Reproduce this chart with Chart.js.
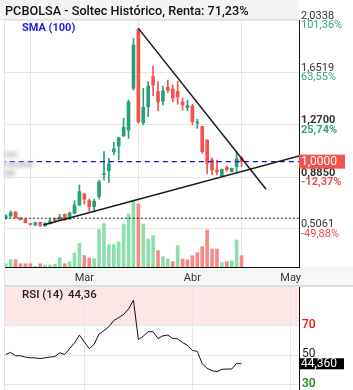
<!DOCTYPE html>
<html lang="es">
<head>
<meta charset="UTF-8">
<title>PCBOLSA - Soltec Histórico</title>
<script src="https://cdn.jsdelivr.net/npm/chart.js"></script>
<style>
  body { margin: 0; background: #fff; width: 353px; height: 390px; overflow: hidden; }
  .panel { position: absolute; left: 0; width: 353px; }
  #main { top: 0; height: 287px; }
  #rsi { top: 287px; height: 103px; }
</style>
</head>
<body>
<div class="panel" id="main"><canvas id="cMain"></canvas></div>
<div class="panel" id="rsi"><canvas id="cRsi"></canvas></div>

<script>
// velas diarias (índice de sesión)
const opens  = [0.585, 0.601, 0.631, 0.587, 0.579, 0.545, 0.535, 0.555, 0.528, 0.545,
                0.582, 0.570, 0.614, 0.578, 0.621, 0.682, 0.763, 0.714, 0.670, 0.743,
                0.905, 0.934, 1.073, 1.115, 1.190, 1.232, 1.538, 1.970, 1.285, 1.403,
                1.623, 1.513, 1.442, 1.545, 1.532, 1.513, 1.437, 1.395, 1.408, 1.283,
                1.256, 1.158, 1.012, 0.939, 0.895, 0.958, 0.926, 0.963, 1.024];
const highs  = [0.609, 0.638, 0.633, 0.588, 0.580, 0.547, 0.557, 0.557, 0.551, 0.585,
                0.586, 0.614, 0.616, 0.628, 0.713, 0.829, 0.765, 0.726, 0.726, 0.865,
                1.073, 1.024, 1.142, 1.180, 1.318, 1.452, 1.904, 1.977, 1.538, 1.586,
                1.701, 1.586, 1.554, 1.598, 1.562, 1.590, 1.466, 1.452, 1.422, 1.310,
                1.261, 1.160, 1.027, 1.012, 0.946, 0.968, 0.953, 1.073, 1.036];
const lows   = [0.579, 0.592, 0.587, 0.572, 0.550, 0.535, 0.530, 0.523, 0.526, 0.541,
                0.560, 0.567, 0.570, 0.575, 0.616, 0.677, 0.689, 0.638, 0.633, 0.724,
                0.865, 0.848, 1.049, 1.012, 1.183, 1.171, 1.525, 1.281, 1.269, 1.329,
                1.481, 1.371, 1.415, 1.505, 1.439, 1.420, 1.378, 1.373, 1.269, 1.244,
                1.061, 0.914, 0.902, 0.902, 0.893, 0.931, 0.924, 0.926, 0.963];
const closes = [0.604, 0.626, 0.589, 0.574, 0.552, 0.540, 0.552, 0.533, 0.550, 0.564,
                0.566, 0.594, 0.572, 0.624, 0.682, 0.780, 0.724, 0.670, 0.709, 0.851,
                0.912, 0.983, 1.093, 1.175, 1.252, 1.439, 1.855, 1.293, 1.398, 1.554,
                1.562, 1.439, 1.520, 1.522, 1.464, 1.474, 1.415, 1.410, 1.293, 1.288,
                1.073, 0.988, 0.939, 0.926, 0.944, 0.942, 0.951, 1.021, 1.000];
// volumen (miles de títulos)
const volumes = [330, 730, 730, 330, 330, 330, 50, 330, 200, 200,
                 270, 930, 330, 530, 1400, 2350, 1150, 900, 850, 3750,
                 4350, 2230, 2230, 2500, 4300, 5300, 6700, 6300, 4300, 2800,
                 3130, 1630, 1030, 800, 530, 2130, 800, 730, 1130, 1430,
                 2030, 3700, 1800, 1800, 430, 530, 600, 2700, 1130];
// RSI (14)
const rsi = [50.7, 52.1, 49.8, 49.8, 48.9, 48.4, 48.4, 47.9, 48.4, 48.9,
             49.3, 51.8, 50.7, 54.6, 58.5, 63.8, 59.2, 54.6, 57.6, 64.5,
             66.8, 69.5, 73.7, 75.7, 77.8, 81.5, 87.5, 60.8, 63.1, 66.1,
             66.1, 61.5, 63.3, 63.8, 61.5, 61.3, 58.7, 56.9, 53.4, 52.8,
             44.3, 41.3, 39.7, 39.0, 40.6, 40.8, 40.8, 44.7, 44.36];

const monthLabels = ['Mar', 'Abr', 'May'];
const monthIdx = [16, 38, 58];
const priceTicks = [2.0338, 1.6519, 1.2700, 0.8850, 0.5061];
const pctLabels = ['101,36%', '63,55%', '25,74%', '-12,37%', '-49,88%'];
const rsiLevels = [70, 50, 30];

// líneas de tendencia y niveles
const resistX = [27, 53];
const resistY = [1.977, 0.797];
const supportX = [7.66, 60];
const supportY = [0.535, 1.044];
const smaLevel = 1.0;
const refLevel = 0.585;

const xMin = -0.15, xMax = 59.7;
const yMin = 0.2274, yMax = 2.0383;
const volMax = 24700;
const rsiMin = 26.6, rsiMax = 96.4;

const GREEN = '#26a17a', RED = '#f4524d';
const VGREEN = '#8ddfb0', VRED = '#f68a87';
const FONT = 'Roboto, "DejaVu Sans", sans-serif';

const pts = (xs, ys) => xs.map((x, i) => ({ x: x, y: ys[i] }));
const fmt = (v, d) => v.toFixed(d).replace('.', ',');

const bodies = closes.map((c, i) => ({ x: i, y: [opens[i], c] }));
const wicks = closes.map((c, i) => ({ x: i, y: [lows[i], highs[i]] }));
const vols = volumes.map((v, i) => ({ x: i, y: v }));
const candleCol = closes.map((c, i) => c >= opens[i] ? GREEN : RED);
const volCol = closes.map((c, i) => (i === 0 || c >= closes[i - 1]) ? VGREEN : VRED);

const mainDeco = {
    id: 'mainDeco',
    beforeDraw(chart) {
        const ctx = chart.ctx, a = chart.chartArea;
        ctx.save();
        ctx.fillStyle = '#f4f4f4';
        ctx.fillRect(0, 0, a.right, a.top - 1);
        ctx.fillStyle = '#e0e0e0';
        ctx.fillRect(0, a.top - 1, a.right, 1);
        ctx.fillStyle = '#f6f6f6';
        ctx.fillRect(a.left, a.bottom, chart.width - a.left, chart.height - a.bottom - 2);
        ctx.fillStyle = '#dcdcdc';
        ctx.fillRect(a.left, chart.height - 2, chart.width - a.left, 2);
        ctx.fillStyle = '#e4e4e4';
        ctx.fillRect(a.left - 1, a.top, 1, chart.height - a.top);
        ctx.restore();
    },
    afterDraw(chart) {
        const ctx = chart.ctx, a = chart.chartArea, y = chart.scales.y;
        ctx.save();
        ctx.textBaseline = 'middle';
        ctx.textAlign = 'left';
        ctx.fillStyle = '#111';
        ctx.font = '500 12.7px ' + FONT;
        ctx.fillText('PCBOLSA - Soltec Histórico, Renta: 71,23%', 5, 12);
        ctx.fillStyle = '#1d1de0';
        ctx.font = 'bold 11px ' + FONT;
        ctx.fillText('SMA (100)', 22, 28.5);

        // etiquetas tapadas
        ctx.filter = 'blur(2px)';
        ctx.fillStyle = 'rgba(190,190,190,0.8)';
        ctx.fillRect(a.left, 152, 12, 5);
        ctx.fillRect(a.left, 162, 28, 5);
        ctx.fillRect(a.left, 170, 10, 6);
        ctx.filter = 'none';

        // eje de precios
        priceTicks.forEach((v, i) => {
            const py = y.getPixelForValue(v);
            const bold = (i === 2 || i === 3) ? 'bold ' : '';
            ctx.font = bold + '11px ' + FONT;
            ctx.fillStyle = '#333';
            ctx.fillText(fmt(v, 4), a.right + 2, py - 4.5);
            ctx.fillStyle = pctLabels[i].startsWith('-') ? '#f04a4a' : '#34a67a';
            ctx.fillText(pctLabels[i], a.right + 2, py + 5);
        });
        const ly = y.getPixelForValue(closes[closes.length - 1]);
        ctx.fillStyle = '#f4524d';
        ctx.fillRect(a.right, ly - 7, 46, 14);
        ctx.fillStyle = '#fff';
        ctx.font = '12px ' + FONT;
        ctx.fillText(fmt(closes[closes.length - 1], 4), a.right + 2, ly);
        ctx.restore();
    }
};

new Chart(document.getElementById('cMain'), {
    type: 'bar',
    data: {
        datasets: [
            { type: 'line', data: pts(resistX, resistY), borderColor: '#1a1a1a', borderWidth: 1.5,
              pointRadius: 0, order: 0 },
            { type: 'line', data: pts(supportX, supportY), borderColor: '#1a1a1a', borderWidth: 1.5,
              pointRadius: 0, order: 0 },
            { type: 'line', data: pts([-1, 61], [smaLevel, smaLevel]), borderColor: '#1414c8',
              borderWidth: 1.2, borderDash: [5, 4], pointRadius: 0, order: 1 },
            { type: 'line', data: pts([-1, 61], [refLevel, refLevel]), borderColor: '#222',
              borderWidth: 1, borderDash: [2, 2], pointRadius: 0, order: 2 },
            { data: bodies, backgroundColor: candleCol, barThickness: 3, minBarLength: 1,
              grouped: false, order: 3 },
            { data: wicks, backgroundColor: candleCol, barThickness: 1, grouped: false, order: 4 },
            { data: vols, yAxisID: 'v', backgroundColor: volCol, barThickness: 3,
              grouped: false, order: 5 }
        ]
    },
    options: {
        responsive: true,
        maintainAspectRatio: false,
        animation: false,
        layout: { padding: { left: 5, top: 20, right: 0, bottom: 2 } },
        plugins: { legend: { display: false }, tooltip: { enabled: false } },
        scales: {
            x: {
                type: 'linear', min: xMin, max: xMax, offset: false,
                afterBuildTicks: s => { s.ticks = monthIdx.map(v => ({ value: v })); },
                afterFit: s => { s.height = 18; },
                ticks: { callback: (v, i) => monthLabels[i], color: '#333', padding: 5,
                         font: { family: FONT, size: 11 }, maxRotation: 0, autoSkip: false },
                grid: { color: '#e6e6e6', drawTicks: false },
                border: { color: '#111', width: 1 }
            },
            y: {
                position: 'right', min: yMin, max: yMax,
                afterBuildTicks: s => { s.ticks = priceTicks.map(v => ({ value: v })); },
                afterFit: s => { s.width = 54; },
                ticks: { display: false },
                grid: { color: '#e6e6e6', drawTicks: false },
                border: { color: '#111', width: 1 }
            },
            v: { display: false, min: 0, max: volMax }
        }
    },
    plugins: [mainDeco]
});

const rsiColors = ['#ee1111', '#222', '#118811'];

const rsiDeco = {
    id: 'rsiDeco',
    beforeDraw(chart) {
        const ctx = chart.ctx, a = chart.chartArea, y = chart.scales.y;
        ctx.save();
        ctx.fillStyle = '#fde6e6';
        ctx.fillRect(a.left, a.top, a.right - a.left, y.getPixelForValue(70) - a.top);
        ctx.fillStyle = '#e4e4e4';
        ctx.fillRect(a.left - 1, a.top, 1, a.bottom - a.top);
        ctx.restore();
    },
    afterDraw(chart) {
        const ctx = chart.ctx, a = chart.chartArea, y = chart.scales.y;
        const last = rsi[rsi.length - 1];
        ctx.save();
        ctx.textBaseline = 'middle';
        ctx.textAlign = 'left';
        // niveles
        rsiLevels.forEach((v, i) => {
            ctx.fillStyle = rsiColors[i];
            ctx.font = (i === 1 ? '' : '500 ') + '12px ' + FONT;
            ctx.fillText(String(v), a.right + 3, y.getPixelForValue(v) - 1);
        });
        ctx.fillStyle = '#222';
        ctx.font = '500 11.5px ' + FONT;
        ctx.fillText('RSI (14)', 22, 8);
        ctx.fillText(fmt(last, 2), 68, 8);
        const ly = y.getPixelForValue(last);
        ctx.fillStyle = '#000';
        ctx.fillRect(a.right, ly - 5.5, 45, 11);
        ctx.fillStyle = '#fff';
        ctx.font = '12px ' + FONT;
        ctx.fillText(fmt(last, 3), a.right + 2, ly);
        ctx.restore();
    }
};

new Chart(document.getElementById('cRsi'), {
    type: 'line',
    data: {
        datasets: [
            { data: rsi.map((v, i) => ({ x: i, y: v })), borderColor: '#111', borderWidth: 1,
              pointRadius: 0, tension: 0 }
        ]
    },
    options: {
        responsive: true,
        maintainAspectRatio: false,
        animation: false,
        layout: { padding: { left: 5, top: 0, right: 0, bottom: 0 } },
        plugins: { legend: { display: false }, tooltip: { enabled: false } },
        scales: {
            x: {
                type: 'linear', min: xMin, max: xMax,
                afterBuildTicks: s => { s.ticks = monthIdx.map(v => ({ value: v })); },
                afterFit: s => { s.height = 0; },
                ticks: { display: false },
                grid: { color: '#e6e6e6', drawTicks: false },
                border: { display: false }
            },
            y: {
                position: 'right', min: rsiMin, max: rsiMax,
                afterBuildTicks: s => { s.ticks = rsiLevels.map(v => ({ value: v })); },
                afterFit: s => { s.width = 54; },
                ticks: { display: false },
                grid: { color: '#e6e6e6', drawTicks: false },
                border: { color: '#111', width: 1 }
            }
        }
    },
    plugins: [rsiDeco]
});
</script>
</body>
</html>
